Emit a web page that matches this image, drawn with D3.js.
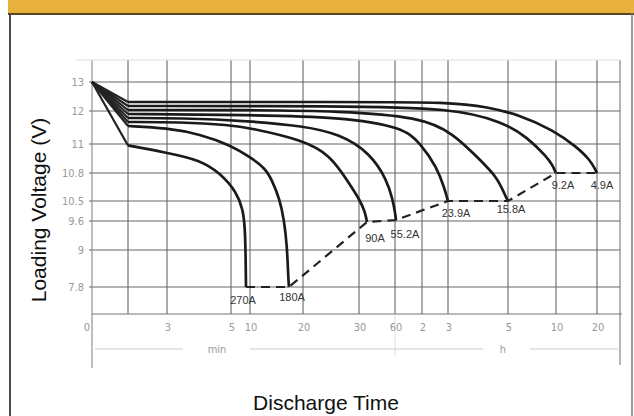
<!DOCTYPE html>
<html>
<head>
<meta charset="utf-8">
<script src="https://cdn.jsdelivr.net/npm/d3@7/dist/d3.min.js"></script>
<style>
  body { margin: 0; background: #fff; }
  svg { display: block; }
  .tick-lbl { font-family: "Liberation Sans Narrow", "DejaVu Sans Condensed", Arial, sans-serif; font-size: 11px; fill: #999; }
  .cur-lbl { font-family: "Liberation Sans", Arial, sans-serif; font-size: 11px; fill: #333; }
  .title { font-family: "Liberation Sans", Arial, sans-serif; font-size: 21px; fill: #111; }
</style>
</head>
<body>
<svg id="chart" width="634" height="416"></svg>
<script>
// y axis labels (volts) and x axis ticks (minutes)
var voltTicks = [7.8, 9, 9.6, 10.5, 10.8, 11, 12, 13];
var timeTicks = [0, 1, 3, 5, 10, 20, 30, 60, 120, 180, 300, 600, 1200];
var timeLabels = ["0", "", "3", "5", "10", "20", "30", "60", "2", "3", "5", "10", "20"];
var startVolt = 13;

// discharge curves, [minutes, volts]
var currents = ["270A", "180A", "90A", "55.2A", "23.9A", "15.8A", "9.2A", "4.9A"];
var c270 = [[1, 10.99], [3, 10.94], [4.03, 10.89], [4.66, 10.80], [6.58, 10.59], [8.16, 10.10], [8.68, 9.46], [8.87, 8.68], [8.92, 8.0], [8.95, 7.8]];
var c180 = [[1, 11.545], [3, 11.485], [4.03, 11.30], [5, 10.99], [10, 10.91], [12.83, 10.834], [14.15, 10.725], [15.66, 10.51], [16.42, 9.645], [16.98, 9.10], [17.25, 8.0], [17.36, 7.8]];
var c90 = [[1, 11.667], [3.41, 11.667], [4.97, 11.576], [10, 11.485], [20, 11.121], [24.82, 10.924], [27.86, 10.725], [30.83, 10.51], [35, 10.0], [36.3, 9.65], [36.67, 9.58]];
var c55 = [[1, 11.788], [3.41, 11.788], [10, 11.697], [20, 11.545], [26.6, 11.303], [39.17, 10.938], [53.3, 10.725], [58.3, 10.51], [61.5, 9.8], [62.2, 9.645]];
var c239 = [[1, 11.909], [10, 11.879], [26.6, 11.818], [77.8, 11.515], [115.6, 11.03], [154.6, 10.841], [173, 10.618], [178, 10.53], [180, 10.5]];
var c158 = [[1, 12.034], [10, 12.034], [26.6, 12.0], [115.6, 11.818], [190, 11.333], [244, 10.89], [278, 10.757], [294, 10.564], [298, 10.52], [300, 10.5]];
var c92 = [[1, 12.172], [26.6, 12.172], [190, 12.103], [290, 11.667], [418.75, 11.212], [543.75, 10.91], [581, 10.848], [595, 10.81], [600, 10.8]];
var c49 = [[1, 12.31], [26.6, 12.31], [190, 12.31], [258, 12.138], [375, 11.879], [581, 11.424], [907, 10.979], [1098, 10.89], [1180, 10.82], [1200, 10.8]];
var curves = [c270, c180, c90, c55, c239, c158, c92, c49];

window.onload = function() {
  makeChart();
};

function makeChart() {
  var svg = d3.select("#chart");

  // frame
  svg.append("rect").attr("x", 8).attr("y", 0).attr("width", 626).attr("height", 13).attr("fill", "#e8b03c");
  svg.append("line").attr("x1", 8).attr("x2", 634).attr("y1", 14).attr("y2", 14).attr("stroke", "#5c4420").attr("stroke-width", 2);
  svg.append("line").attr("x1", 10).attr("x2", 10).attr("y1", 13).attr("y2", 416).attr("stroke", "#4a4a4a").attr("stroke-width", 2);
  svg.append("line").attr("x1", 632).attr("x2", 632).attr("y1", 13).attr("y2", 416).attr("stroke", "#777").attr("stroke-width", 1.5);

  var top = 60, bottom = 314, left = 92, right = 620;

  // uneven scales as printed on the sheet
  var x = d3.scaleLinear()
    .domain(timeTicks.concat([1500]))
    .range([92, 128, 167, 231, 250, 303, 359, 395, 422, 448, 508, 556, 597, 620]);
  var y = d3.scaleLinear()
    .domain(voltTicks)
    .range([287, 250, 221, 201, 173, 144, 111, 82]);

  var g = svg.append("g");

  // grid
  g.selectAll(".hgrid").data(voltTicks).enter().append("line")
    .attr("x1", left - 3).attr("x2", right)
    .attr("y1", function(d) { return y(d); }).attr("y2", function(d) { return y(d); })
    .attr("stroke", "#666").attr("stroke-width", 1.1);
  g.selectAll(".vgrid").data(timeTicks.slice(1)).enter().append("line")
    .attr("y1", top).attr("y2", bottom)
    .attr("x1", function(d) { return x(d); }).attr("x2", function(d) { return x(d); })
    .attr("stroke", "#666").attr("stroke-width", 1.1);
  g.append("line").attr("x1", right).attr("x2", right).attr("y1", top).attr("y2", 365).attr("stroke", "#777").attr("stroke-width", 1.1);
  g.append("line").attr("x1", left).attr("x2", left).attr("y1", top).attr("y2", 368).attr("stroke", "#888").attr("stroke-width", 1.1);
  g.append("line").attr("x1", left - 16).attr("x2", right).attr("y1", top).attr("y2", top).attr("stroke", "#ddd");
  g.append("line").attr("x1", left).attr("x2", right + 2).attr("y1", bottom).attr("y2", bottom).attr("stroke", "#777").attr("stroke-width", 1.1);
  g.append("line").attr("x1", x(60)).attr("x2", x(60)).attr("y1", bottom).attr("y2", 356).attr("stroke", "#ddd");

  // min / h span marks
  var span = [[x(0) + 3, 183], [250, 483], [530, right - 2]];
  g.selectAll(".span").data(span).enter().append("line")
    .attr("x1", function(d) { return d[0]; }).attr("x2", function(d) { return d[1]; })
    .attr("y1", 349).attr("y2", 349).attr("stroke", "#ccc");
  g.append("text").attr("class", "tick-lbl").attr("x", 217).attr("y", 353).attr("text-anchor", "middle").text("min");
  g.append("text").attr("class", "tick-lbl").attr("x", 503).attr("y", 353).attr("text-anchor", "middle").text("h");

  // tick labels
  g.selectAll(".ylbl").data(voltTicks).enter().append("text")
    .attr("class", "tick-lbl")
    .attr("x", 84).attr("y", function(d) { return y(d) + 4; })
    .attr("text-anchor", "end")
    .text(function(d) { return d; });
  g.selectAll(".xlbl").data(timeTicks).enter().append("text")
    .attr("class", "tick-lbl")
    .attr("x", function(d, i) { return i == 0 ? x(d) - 5 : x(d) + 1; })
    .attr("y", 331)
    .attr("text-anchor", "middle")
    .text(function(d, i) { return timeLabels[i]; });

  // curves
  var line = d3.line()
    .x(function(d) { return x(d[0]); })
    .y(function(d) { return y(d[1]); })
    .curve(d3.curveBasis);

  curves.forEach(function(c) {
    g.append("path")
      .attr("d", d3.line().x(function(d) { return x(d[0]); }).y(function(d) { return y(d[1]); })([[0, startVolt], c[0]]))
      .attr("fill", "none").attr("stroke", "#222").attr("stroke-width", 2.2);
    g.append("path")
      .attr("d", line(c))
      .attr("fill", "none").attr("stroke", "#1a1a1a").attr("stroke-width", 2.7);
  });

  // cut-off line through end points
  var ends = curves.map(function(c) { return c[c.length - 1]; });
  g.append("path")
    .attr("d", d3.line().x(function(d) { return x(d[0]); }).y(function(d) { return y(d[1]); })(ends))
    .attr("fill", "none").attr("stroke", "#222").attr("stroke-width", 2.2)
    .attr("stroke-dasharray", "9,6");

  var lblOff = [[-3, 17], [3, 14], [8, 20], [9, 18], [8, 16], [3, 12], [7, 16], [5, 16]];
  g.selectAll(".clbl").data(ends).enter().append("text")
    .attr("class", "cur-lbl")
    .attr("x", function(d, i) { return x(d[0]) + lblOff[i][0]; })
    .attr("y", function(d, i) { return y(d[1]) + lblOff[i][1]; })
    .attr("text-anchor", "middle")
    .text(function(d, i) { return currents[i]; });

  // axis titles
  svg.append("text").attr("class", "title")
    .attr("transform", "translate(46,210) rotate(-90)")
    .attr("text-anchor", "middle")
    .text("Loading Voltage (V)");
  svg.append("text").attr("class", "title")
    .attr("x", 326).attr("y", 410)
    .attr("text-anchor", "middle")
    .text("Discharge Time");
}
</script>
</body>
</html>
